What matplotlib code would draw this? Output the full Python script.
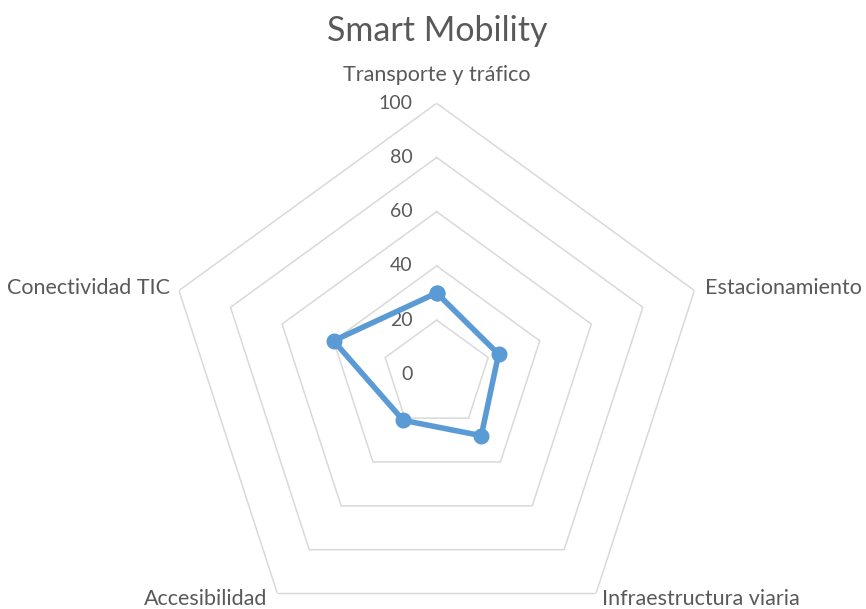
import numpy as np
import matplotlib.pyplot as plt

plt.rcParams['font.family'] = ['Lato', 'DejaVu Sans']

# indicadores de movilidad inteligente
categories = ["Transporte y tráfico", "Estacionamiento", "Infraestructura viaria",
              "Accesibilidad", "Conectividad TIC"]
values = [30, 24, 28, 21, 40]
ring_levels = [20, 40, 60, 80, 100]
tick_labels = ["0", "20", "40", "60", "80", "100"]

text_color = "#595959"
grid_color = "#d9d9d9"
line_color = "#5b9bd5"

n = len(categories)
angles = np.linspace(0, 2 * np.pi, n, endpoint=False)
closed = np.append(angles, angles[0])

fig = plt.figure(figsize=(8.66, 6.09), dpi=100)
ax = fig.add_axes([0.1913, -0.0596, 0.6259, 0.89], projection='polar')
ax.set_theta_zero_location('N')
ax.set_theta_direction(-1)
ax.set_ylim(0, 100)
ax.grid(False)
ax.spines['polar'].set_visible(False)
ax.set_xticks([])
ax.set_yticks([])
ax.patch.set_alpha(0)

# anillos pentagonales
for lvl in ring_levels:
    ax.plot(closed, [lvl] * (n + 1), color=grid_color, lw=1.1, zorder=1)

# etiquetas del eje radial
for i, lab in enumerate(tick_labels):
    ax.annotate(lab, xy=(0, i * 20), xytext=(-24, 0), textcoords='offset pixels',
                ha='right', va='center', fontsize=14, color=text_color)

# serie de datos
ax.plot(np.append(angles, angles[0]), values + values[:1], color=line_color,
        lw=4, marker='o', markersize=10.5, zorder=3, clip_on=False)

# etiquetas de categorías
offsets = [((0, 28), 'center', 'center'),
           ((11, 3), 'left', 'center'),
           ((6, -5), 'left', 'center'),
           ((-10, -5), 'right', 'center'),
           ((-9, 3), 'right', 'center')]
for ang, cat, (off, ha, va) in zip(angles, categories, offsets):
    ax.annotate(cat, xy=(ang, 100), xytext=off, textcoords='offset pixels',
                ha=ha, va=va, fontsize=15.5, color=text_color, annotation_clip=False)

fig.text(0.5045, 0.949, "Smart Mobility", ha='center', va='center',
         fontsize=24.5, color=text_color)

fig.savefig("out.png", dpi=100)
